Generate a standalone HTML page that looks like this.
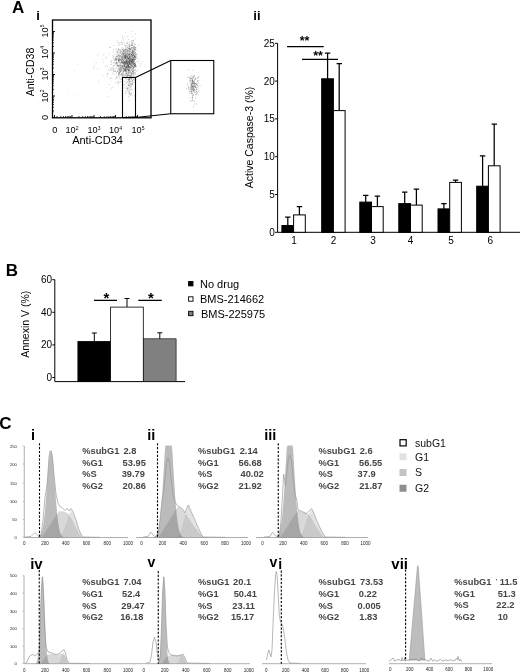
<!DOCTYPE html>
<html><head><meta charset="utf-8"><title>Figure</title>
<style>
html,body{margin:0;padding:0;background:#fff;}
body{width:520px;height:672px;overflow:hidden;font-family:'Liberation Sans', Arial, sans-serif;}
svg{display:block;font-family:'Liberation Sans', Arial, sans-serif;filter:blur(.35px);}
</style></head><body>
<svg width="520" height="672" viewBox="0 0 520 672">
<rect width="520" height="672" fill="#fff"/>
<text x="12" y="13" font-size="17" font-weight="bold" fill="#000" text-anchor="start" >A</text>
<text x="36.3" y="19.5" font-size="13" font-weight="bold" fill="#000" text-anchor="start" >i</text>
<rect x="52.5" y="20" width="98.5" height="97.8" fill="none" stroke="#000" stroke-width="1.3"/>
<path d="M135.3 58.1h.7M123.4 72.0h.7M126.2 56.4h.7M128.2 61.8h.7M121.7 74.9h.7M126.0 61.8h.7M126.0 66.5h.7M116.3 59.1h.7M131.6 74.7h.7M129.3 42.4h.7M122.6 53.1h.7M125.1 53.0h.7M128.8 72.9h.7M124.6 64.2h.7M124.7 59.3h.7M118.0 53.3h.7M129.1 63.0h.7M126.7 61.7h.7M127.5 55.1h.7M117.6 51.8h.7M135.1 49.7h.7M126.8 62.4h.7M123.9 64.1h.7M137.2 58.3h.7M125.8 59.9h.7M118.0 49.5h.7M123.8 62.0h.7M113.4 56.6h.7M131.8 59.6h.7M123.7 65.3h.7M121.9 56.9h.7M131.9 51.3h.7M116.9 71.4h.7M128.9 62.9h.7M114.6 59.3h.7M122.4 38.5h.7M119.4 62.5h.7M134.0 63.6h.7M135.7 67.0h.7M124.2 56.2h.7M130.6 54.6h.7M125.0 57.8h.7M129.1 66.7h.7M121.9 53.0h.7M116.6 62.8h.7M116.1 56.6h.7M128.1 62.5h.7M138.4 45.2h.7M127.5 63.5h.7M123.1 57.9h.7M136.5 56.2h.7M127.3 64.7h.7M126.6 69.8h.7M127.4 47.3h.7M125.3 69.1h.7M124.3 65.9h.7M118.1 61.0h.7M128.8 71.2h.7M125.5 62.6h.7M132.6 69.2h.7M124.0 56.9h.7M115.5 57.3h.7M125.5 70.8h.7M135.3 75.2h.7M123.9 66.6h.7M121.1 69.4h.7M119.4 59.2h.7M120.2 52.3h.7M124.3 59.7h.7M119.5 74.6h.7M134.2 44.0h.7M124.4 57.6h.7M126.6 45.8h.7M133.9 59.5h.7M134.3 65.4h.7M124.8 51.6h.7M127.8 57.3h.7M130.0 70.2h.7M124.9 60.6h.7M116.2 54.1h.7M129.6 49.6h.7M130.9 43.8h.7M128.3 66.4h.7M120.9 56.6h.7M124.9 69.5h.7M122.8 68.7h.7M124.4 56.3h.7M133.1 54.8h.7M134.4 64.7h.7M129.7 61.1h.7M129.0 62.2h.7M129.7 47.0h.7M125.9 68.1h.7M125.6 54.3h.7M122.3 44.3h.7M125.7 56.3h.7M138.4 60.7h.7M130.8 76.0h.7M124.1 58.6h.7M123.4 51.3h.7M121.2 79.0h.7M128.1 61.7h.7M128.2 58.3h.7M118.1 54.9h.7M128.7 52.4h.7M122.9 73.5h.7M133.8 56.6h.7M126.9 56.5h.7M135.4 54.3h.7M123.5 74.0h.7M124.4 56.8h.7M127.6 65.4h.7M131.8 61.4h.7M129.1 62.0h.7M119.2 56.1h.7M127.0 65.9h.7M126.1 73.6h.7M123.6 61.3h.7M122.4 54.8h.7M135.6 48.1h.7M123.9 63.1h.7M121.3 60.2h.7M129.5 59.2h.7M126.7 60.9h.7M125.6 49.6h.7M130.3 65.9h.7M128.7 62.1h.7M128.0 59.8h.7M131.3 61.3h.7M127.6 67.8h.7M122.6 62.4h.7M124.0 54.9h.7M123.1 71.0h.7M127.2 57.3h.7M120.1 57.0h.7M115.9 51.7h.7M126.5 60.9h.7M118.6 54.9h.7M115.3 60.1h.7M128.1 63.9h.7M122.1 62.4h.7M128.7 68.2h.7M123.1 64.2h.7M119.8 59.6h.7M119.2 60.4h.7M123.2 57.8h.7M124.5 66.5h.7M121.5 62.5h.7M124.5 58.2h.7M117.6 70.1h.7M126.1 61.7h.7M116.1 60.2h.7M124.9 49.5h.7M129.8 63.3h.7M132.0 61.1h.7M135.4 58.7h.7M117.4 60.1h.7M130.2 53.3h.7M132.6 57.3h.7M131.4 61.2h.7M120.9 61.5h.7M128.3 59.2h.7M136.2 54.4h.7M117.8 66.1h.7M128.6 62.1h.7M132.1 53.3h.7M122.2 68.1h.7M129.2 66.3h.7M120.1 69.1h.7M121.5 61.3h.7M121.5 60.8h.7M127.1 51.6h.7M125.5 67.1h.7M131.2 42.7h.7M120.8 59.4h.7M125.3 58.5h.7M131.3 66.2h.7M129.1 60.1h.7M118.7 55.6h.7M129.7 48.8h.7M123.4 56.1h.7M128.1 61.2h.7M127.7 61.0h.7M132.7 57.5h.7M126.6 55.4h.7M115.8 62.3h.7M118.5 71.0h.7M130.0 51.2h.7M124.6 61.7h.7M132.3 71.9h.7M127.5 64.9h.7M121.9 58.6h.7M132.0 64.4h.7M121.6 56.4h.7M114.7 64.3h.7M137.4 69.9h.7M115.5 78.9h.7M129.5 46.6h.7M131.2 65.0h.7M126.8 76.0h.7M116.7 59.4h.7M131.6 61.4h.7M118.1 75.1h.7M118.6 59.3h.7M124.0 65.1h.7M130.3 59.3h.7M127.7 45.4h.7M130.5 62.4h.7M123.6 60.3h.7M125.1 68.6h.7M119.7 79.2h.7M124.3 66.9h.7M129.3 57.2h.7M124.4 65.0h.7M128.6 61.8h.7M122.8 69.9h.7M122.7 50.7h.7M126.2 51.8h.7M124.9 45.3h.7M129.3 64.8h.7M127.0 60.6h.7M135.6 53.2h.7M124.8 55.7h.7M124.8 56.9h.7M120.3 55.4h.7M126.1 58.4h.7M129.8 56.0h.7M121.9 73.1h.7M125.7 63.6h.7M130.0 53.4h.7M125.3 56.6h.7M123.1 71.2h.7M131.4 63.0h.7M126.5 63.2h.7M128.2 66.0h.7M132.4 71.6h.7M132.3 49.6h.7M124.1 55.7h.7M123.1 48.2h.7M127.6 64.4h.7M125.3 58.2h.7M115.6 58.8h.7M133.0 53.0h.7M126.1 66.4h.7M130.1 58.7h.7M119.5 58.7h.7M133.1 68.8h.7M122.8 53.7h.7M125.4 51.3h.7M118.3 83.6h.7M125.1 58.4h.7M124.7 57.1h.7M125.0 55.6h.7M128.4 59.2h.7M126.3 67.0h.7M131.4 65.3h.7M123.4 66.0h.7M120.5 60.4h.7M125.9 49.4h.7M129.5 62.2h.7M132.8 70.9h.7M130.5 68.1h.7M116.3 62.5h.7M128.1 66.7h.7M134.0 55.6h.7M126.3 60.5h.7M123.2 52.2h.7M127.7 58.0h.7M123.2 62.9h.7M129.5 58.7h.7M125.9 67.1h.7M133.7 73.5h.7M128.7 70.6h.7M122.0 59.8h.7M129.3 54.3h.7M131.1 54.4h.7M122.9 54.2h.7M123.7 61.9h.7M113.3 68.0h.7M131.0 61.0h.7M122.8 63.5h.7M114.3 65.6h.7M116.3 62.8h.7M124.8 55.5h.7M130.2 73.3h.7M125.5 69.4h.7M128.6 53.1h.7M119.9 55.7h.7M118.6 58.6h.7M130.9 59.8h.7M128.7 70.1h.7M125.8 69.0h.7M133.1 67.3h.7M120.8 71.0h.7M123.7 70.3h.7M131.6 65.1h.7M136.1 61.6h.7M126.0 60.1h.7M135.2 44.6h.7M122.7 61.0h.7M127.8 74.6h.7M125.0 57.0h.7M117.3 58.6h.7M127.4 68.6h.7M131.1 60.1h.7M125.2 57.5h.7M125.6 73.3h.7M133.7 63.7h.7M119.1 68.9h.7M117.8 59.0h.7M122.4 65.9h.7M119.4 65.9h.7M133.4 64.9h.7M127.7 69.5h.7M121.2 71.2h.7M122.6 63.3h.7M141.7 61.8h.7M122.6 53.0h.7M121.8 67.3h.7M127.7 65.9h.7M129.5 56.9h.7M127.2 54.6h.7M121.0 62.0h.7M119.6 53.3h.7M129.3 62.7h.7M125.7 63.4h.7M117.0 56.2h.7M132.4 59.5h.7M130.3 68.1h.7M124.7 69.7h.7M124.6 69.3h.7M127.3 59.5h.7M122.2 59.4h.7M118.6 60.1h.7M127.8 65.1h.7M118.1 81.7h.7M128.1 71.4h.7M118.1 75.7h.7M125.5 71.7h.7M125.3 48.6h.7M135.8 56.6h.7M120.1 59.3h.7M118.2 73.1h.7M122.4 75.3h.7M119.8 57.6h.7M122.8 62.2h.7M128.3 64.7h.7M130.2 55.9h.7M135.1 53.4h.7M121.9 56.9h.7M140.5 63.7h.7M136.9 50.7h.7M124.9 70.2h.7M113.4 65.3h.7M125.5 67.0h.7M126.4 73.0h.7M113.4 59.4h.7M126.4 54.5h.7M124.9 64.7h.7M121.7 54.2h.7M129.4 54.3h.7M131.5 58.5h.7M123.3 63.0h.7M127.3 50.9h.7M122.4 59.1h.7M121.7 66.8h.7M126.4 71.4h.7M128.9 44.8h.7M122.9 72.1h.7M113.8 71.4h.7M129.2 51.6h.7M117.2 52.1h.7M126.7 64.1h.7M135.8 54.9h.7M125.9 62.1h.7M119.5 69.6h.7M118.0 60.4h.7M132.4 60.4h.7M125.9 64.7h.7M129.0 67.1h.7M131.1 73.3h.7M125.7 74.4h.7M124.3 63.4h.7M120.8 60.7h.7M109.0 84.5h.7M117.7 68.4h.7M125.6 64.4h.7M125.0 52.7h.7M128.2 66.4h.7M125.3 55.1h.7M126.9 57.2h.7M130.3 49.3h.7M121.1 58.4h.7M124.4 61.9h.7M117.2 51.9h.7M131.4 52.5h.7M126.2 60.3h.7M128.7 50.4h.7M134.5 48.8h.7M131.9 52.8h.7M125.7 50.1h.7M130.3 64.5h.7M118.1 55.5h.7M128.4 66.3h.7M126.8 68.0h.7M117.1 54.2h.7M133.4 59.2h.7M122.1 58.4h.7M129.8 51.0h.7M123.7 59.1h.7M131.5 57.5h.7M133.2 64.5h.7M121.4 70.3h.7M117.6 54.9h.7M125.3 58.0h.7M130.7 63.8h.7M124.0 70.8h.7M122.6 42.9h.7M128.7 70.2h.7M110.8 64.1h.7M122.3 74.0h.7M118.4 59.9h.7M127.6 54.0h.7M122.0 62.5h.7M119.9 71.9h.7M124.1 61.8h.7M117.9 44.9h.7M125.9 66.4h.7M122.2 49.5h.7M123.9 54.0h.7M122.1 53.1h.7M131.0 45.2h.7M125.4 51.4h.7M128.9 52.4h.7M128.6 55.4h.7M121.6 61.9h.7M129.1 57.5h.7M127.9 48.8h.7M127.7 59.1h.7M123.8 69.3h.7M123.7 69.1h.7M130.3 60.8h.7M138.0 62.4h.7M121.4 69.3h.7M128.9 70.8h.7M124.0 74.9h.7M130.3 57.2h.7M128.4 58.2h.7M131.8 70.8h.7M110.6 77.7h.7M122.7 74.0h.7M120.6 44.2h.7M125.4 59.5h.7M122.0 36.6h.7M122.5 67.7h.7M129.8 60.3h.7M136.5 58.4h.7M110.5 64.4h.7M124.3 71.7h.7M127.7 58.2h.7M126.0 69.1h.7M124.1 65.9h.7M118.6 66.0h.7M120.8 66.1h.7M130.0 60.7h.7M131.9 50.7h.7M126.5 66.5h.7M121.4 67.9h.7M126.5 59.7h.7M124.7 67.1h.7M129.0 67.2h.7M126.7 50.8h.7M122.6 60.9h.7M127.0 57.2h.7M119.5 55.8h.7M130.5 62.2h.7M132.5 52.5h.7M119.5 59.5h.7M128.3 62.2h.7M120.5 65.3h.7M131.9 61.8h.7M131.0 77.1h.7M124.7 57.4h.7M131.5 61.4h.7M123.6 52.2h.7M122.5 65.8h.7M122.9 71.0h.7M125.2 70.7h.7M124.2 56.5h.7M126.8 58.6h.7M122.6 71.9h.7M130.2 59.0h.7M131.6 66.9h.7M123.3 54.2h.7M118.2 74.1h.7M130.0 67.9h.7M132.3 62.8h.7M125.1 55.0h.7M118.9 61.8h.7M127.5 61.8h.7M134.4 60.6h.7M115.7 63.2h.7M128.6 58.5h.7M124.3 63.0h.7M121.3 73.3h.7M128.7 44.5h.7M118.9 52.3h.7M127.6 48.4h.7M133.2 53.5h.7M127.0 47.1h.7M121.2 66.7h.7M116.2 64.6h.7M118.9 61.1h.7M115.9 58.6h.7M134.8 59.7h.7M124.6 62.8h.7M120.3 65.3h.7M118.9 57.4h.7M120.1 67.8h.7M124.2 50.0h.7M118.9 72.8h.7M135.2 34.2h.7M121.9 57.5h.7M121.7 52.8h.7M127.7 66.7h.7M134.0 47.0h.7M133.3 73.2h.7M123.3 49.7h.7M127.4 76.5h.7M126.8 64.3h.7M128.9 60.4h.7M127.4 64.0h.7M120.8 79.7h.7M119.1 70.0h.7M127.0 43.2h.7M119.5 72.3h.7M133.5 60.6h.7M126.2 48.3h.7M120.4 68.6h.7M124.2 52.0h.7M123.2 63.2h.7M125.3 63.0h.7M131.2 54.4h.7M118.1 68.4h.7M115.7 56.0h.7M127.9 62.0h.7M125.0 57.0h.7M126.9 59.3h.7M128.4 75.4h.7M125.0 62.2h.7M130.4 51.2h.7M121.1 61.5h.7M126.4 54.9h.7M121.4 62.5h.7M119.8 64.1h.7M129.4 60.7h.7M129.1 60.7h.7M115.3 59.8h.7M119.8 66.3h.7M127.6 68.8h.7M131.9 54.4h.7M122.3 61.6h.7M125.0 61.8h.7M118.2 73.1h.7M139.8 65.4h.7M128.6 54.5h.7M130.9 60.1h.7M129.6 48.2h.7M131.1 51.9h.7M129.3 60.1h.7M124.2 66.5h.7M130.1 67.3h.7M126.4 58.4h.7M133.1 48.3h.7M122.0 65.3h.7M123.0 60.5h.7M129.6 63.3h.7M133.0 60.2h.7M126.8 66.4h.7M122.1 67.3h.7M125.3 67.8h.7M123.3 58.2h.7M136.4 65.8h.7M130.9 55.6h.7M133.0 59.6h.7M127.7 75.1h.7M122.9 64.7h.7M132.5 50.0h.7M135.1 70.0h.7M129.2 67.9h.7M125.9 70.0h.7M131.9 60.8h.7M124.0 64.3h.7M130.2 58.0h.7M122.1 56.7h.7M120.7 74.5h.7M129.1 57.2h.7M127.9 56.7h.7M136.5 54.5h.7M124.5 76.0h.7M126.1 67.8h.7M119.7 59.9h.7M115.7 63.6h.7M116.2 67.9h.7M128.5 67.1h.7M119.5 50.3h.7M132.2 66.3h.7M133.8 57.0h.7M124.4 56.1h.7M135.1 55.3h.7M127.2 66.8h.7M132.2 73.0h.7M124.8 62.5h.7M131.3 63.8h.7M120.8 56.1h.7M129.4 63.9h.7M123.5 68.2h.7M125.3 49.5h.7M129.5 56.0h.7M126.9 66.9h.7M125.6 47.3h.7M130.0 56.9h.7M130.4 64.4h.7M118.4 50.0h.7M129.1 57.0h.7M129.7 60.4h.7M121.9 69.2h.7M128.1 50.4h.7M118.7 71.8h.7M133.9 61.1h.7M124.7 70.8h.7M125.6 70.2h.7M132.6 61.8h.7M125.2 65.0h.7M129.3 46.4h.7M120.2 52.1h.7M122.9 54.0h.7M118.3 60.5h.7M124.9 68.6h.7M131.7 45.4h.7M127.2 58.1h.7M130.9 49.2h.7M120.4 50.4h.7M121.1 74.0h.7M123.4 62.5h.7M129.1 72.9h.7M128.0 69.7h.7M125.9 53.8h.7M129.4 45.5h.7M125.2 77.5h.7M131.0 79.5h.7M122.9 60.7h.7M127.9 70.0h.7M134.0 46.9h.7M128.1 58.9h.7M131.7 60.1h.7M133.7 60.2h.7M134.7 55.7h.7M127.2 52.8h.7M131.6 31.5h.7M131.7 54.3h.7M128.9 51.7h.7M132.1 57.0h.7M123.5 68.8h.7M132.8 79.1h.7M134.4 63.6h.7M122.8 70.3h.7M119.0 67.6h.7M120.2 68.3h.7M133.3 64.4h.7M125.7 58.3h.7M131.8 56.5h.7M127.3 63.3h.7M117.5 78.5h.7M133.2 66.2h.7M116.2 77.1h.7M120.1 50.2h.7M130.6 62.1h.7M118.2 65.8h.7M127.8 65.0h.7M121.1 49.3h.7M119.1 45.5h.7M121.5 42.5h.7M126.9 56.9h.7M133.8 80.2h.7M117.5 64.4h.7M127.5 49.5h.7M131.8 62.6h.7M125.0 58.2h.7M122.7 62.9h.7M122.2 57.4h.7M128.6 48.6h.7M130.6 55.0h.7M129.1 66.6h.7M124.3 63.8h.7M118.9 73.2h.7M135.4 49.3h.7M131.8 69.1h.7M124.2 61.7h.7M123.6 63.1h.7M129.8 71.3h.7M119.1 61.1h.7M132.5 61.9h.7M135.2 64.8h.7M126.3 66.7h.7M124.5 68.6h.7M127.5 72.3h.7M126.7 65.6h.7M131.9 55.9h.7M122.2 83.8h.7M134.3 59.1h.7M130.4 63.6h.7M135.0 52.5h.7M117.8 43.1h.7M122.4 54.8h.7M121.4 62.6h.7M124.4 66.2h.7M127.4 61.1h.7M128.5 67.8h.7M132.0 68.8h.7M124.5 70.3h.7M133.2 59.7h.7M125.8 61.9h.7M133.6 57.7h.7M134.3 51.6h.7M127.6 73.7h.7M133.0 48.6h.7M132.1 59.3h.7M121.9 64.0h.7M133.4 40.4h.7M128.5 67.4h.7M115.4 60.1h.7M131.8 62.0h.7M132.4 56.9h.7M128.8 46.8h.7M112.8 65.6h.7M127.0 61.9h.7M128.0 69.8h.7M128.3 65.0h.7M131.9 44.8h.7M121.7 72.0h.7M134.1 66.7h.7M125.3 68.2h.7M111.4 68.5h.7M129.8 54.1h.7M128.2 65.5h.7M118.4 59.4h.7M122.5 87.8h.7M129.6 58.3h.7M127.8 50.8h.7M129.5 57.4h.7M132.3 72.9h.7M115.1 58.2h.7M123.1 39.8h.7M125.3 74.5h.7M117.7 65.8h.7M115.0 58.9h.7M126.4 67.5h.7M124.6 53.2h.7M121.6 51.5h.7M107.1 73.5h.7M133.1 55.1h.7M124.5 66.3h.7M126.1 61.3h.7M134.8 66.9h.7M122.4 62.9h.7M132.9 41.4h.7M135.3 65.5h.7M132.7 55.6h.7M120.1 70.3h.7M130.2 61.4h.7M132.8 72.6h.7M135.1 56.5h.7M113.4 45.2h.7M129.1 57.7h.7M122.4 66.5h.7M113.9 60.5h.7M125.8 57.0h.7M131.0 73.4h.7M133.7 58.3h.7M102.4 75.4h.7M107.1 66.3h.7M118.8 49.6h.7M123.7 53.2h.7M133.9 56.8h.7M116.4 65.9h.7M123.0 54.5h.7M131.9 47.3h.7M119.9 53.2h.7M126.2 56.4h.7M106.0 57.2h.7M118.6 57.4h.7M130.8 77.0h.7M126.8 63.5h.7M121.2 54.8h.7M134.3 59.4h.7M117.6 77.0h.7M133.7 65.4h.7M132.2 59.0h.7M128.7 48.4h.7M129.6 45.1h.7M134.6 56.4h.7M129.7 59.4h.7M130.9 45.5h.7M134.5 47.4h.7M129.5 60.0h.7M120.8 42.2h.7M125.6 45.7h.7M123.5 61.2h.7M113.1 68.7h.7M118.1 65.6h.7M119.8 71.3h.7M131.4 74.2h.7M133.4 67.7h.7M110.1 61.9h.7M128.1 79.9h.7M128.7 75.7h.7M126.0 69.6h.7M133.1 52.4h.7M130.9 63.8h.7M124.1 42.7h.7M133.1 56.8h.7M116.5 40.7h.7M132.0 56.2h.7M124.7 70.7h.7M135.1 59.5h.7M134.1 74.1h.7M129.3 60.6h.7M119.7 63.4h.7M134.8 56.7h.7M119.9 67.2h.7M129.3 60.3h.7M133.7 70.5h.7M115.7 77.8h.7M127.0 64.4h.7M127.1 50.9h.7M129.9 65.5h.7M133.3 72.0h.7M132.1 65.9h.7M117.6 65.6h.7M129.3 69.1h.7M128.1 72.8h.7M132.3 36.5h.7M126.2 74.9h.7M135.5 66.4h.7M124.7 65.9h.7M127.9 55.9h.7M128.8 62.8h.7M112.7 69.5h.7M133.1 46.5h.7M133.1 66.6h.7M129.3 61.3h.7M119.1 75.9h.7M134.7 65.7h.7M126.1 59.7h.7M124.4 62.2h.7M128.1 66.7h.7M122.6 63.4h.7M120.7 67.3h.7M128.5 54.4h.7M129.1 49.5h.7M126.0 56.2h.7M134.7 46.7h.7M128.6 53.8h.7M109.7 67.8h.7M134.6 44.9h.7M129.7 49.5h.7M112.6 70.6h.7M133.6 55.1h.7M130.7 60.3h.7M123.6 50.7h.7M132.7 50.6h.7M114.2 61.0h.7M132.7 74.7h.7M122.5 66.0h.7M121.6 47.1h.7M134.8 63.6h.7M119.8 70.9h.7M134.2 65.9h.7M129.8 49.6h.7M125.5 60.8h.7M133.5 78.9h.7M134.0 51.3h.7M128.6 63.8h.7M118.8 56.0h.7M123.7 50.4h.7M131.1 56.4h.7M128.4 70.1h.7M127.6 71.5h.7M121.2 54.4h.7M129.3 56.4h.7M125.0 53.5h.7M131.4 41.6h.7M128.4 66.3h.7M123.6 75.8h.7M133.3 73.4h.7M129.6 56.5h.7M130.5 72.4h.7M129.0 70.6h.7M123.0 58.9h.7M131.9 60.1h.7M134.1 56.4h.7M127.2 63.3h.7M133.2 76.3h.7M125.0 53.3h.7M103.5 55.2h.7M132.7 67.9h.7M129.4 61.3h.7M109.9 47.6h.7M132.0 51.1h.7M134.5 52.3h.7M131.4 54.9h.7M120.5 65.4h.7M112.0 73.2h.7M134.3 58.3h.7M131.7 61.7h.7M118.7 56.2h.7M128.3 70.2h.7M126.3 73.5h.7M122.7 59.8h.7M112.7 57.5h.7M117.1 81.9h.7M131.7 68.7h.7M132.4 52.2h.7M125.3 46.4h.7M127.7 58.5h.7M132.0 71.1h.7M127.1 56.4h.7M135.0 57.5h.7M130.1 56.3h.7M117.8 69.0h.7M122.4 74.8h.7M122.8 50.8h.7M131.4 57.9h.7M94.3 66.1h.7M132.6 54.6h.7M133.9 49.2h.7M134.8 67.2h.7M124.7 63.2h.7M127.6 67.7h.7M122.9 75.8h.7M124.3 58.6h.7M135.2 64.6h.7M126.5 57.8h.7M113.5 63.3h.7M118.4 66.1h.7M128.9 59.5h.7M115.7 50.0h.7M131.2 74.1h.7M131.8 61.8h.7M133.9 49.7h.7M131.6 40.6h.7M132.6 60.1h.7M130.6 66.6h.7M131.0 69.7h.7M135.3 69.8h.7M103.3 62.7h.7M123.0 68.0h.7M128.8 47.1h.7M131.2 61.9h.7M127.5 69.6h.7M133.0 54.7h.7M132.8 58.8h.7M125.1 62.7h.7M125.4 63.0h.7M109.5 78.3h.7M129.3 51.2h.7M127.8 73.3h.7M108.5 53.9h.7M124.2 55.9h.7M124.7 54.9h.7M133.1 59.4h.7M125.0 57.3h.7M133.4 64.5h.7M125.6 61.8h.7M117.4 83.2h.7M130.6 64.2h.7M133.3 57.9h.7M133.6 63.5h.7M131.7 65.9h.7M113.1 62.5h.7M134.2 49.9h.7M131.3 53.3h.7M126.0 63.2h.7M117.4 70.8h.7M127.2 65.7h.7M127.0 60.6h.7M126.5 66.6h.7M134.3 55.5h.7M117.1 65.7h.7M127.3 74.2h.7M125.0 71.9h.7M131.3 72.8h.7M120.2 59.4h.7M125.4 63.6h.7M126.4 52.4h.7M119.3 71.2h.7M126.8 57.6h.7M127.5 49.4h.7M129.0 56.5h.7M127.4 63.6h.7M119.1 43.1h.7M133.1 47.4h.7M127.6 70.2h.7M126.3 62.4h.7M133.0 59.8h.7M113.2 49.6h.7M111.6 78.7h.7M125.8 70.9h.7M128.6 67.4h.7M133.5 50.0h.7M135.3 64.9h.7M133.1 70.4h.7M111.5 61.5h.7M131.9 58.1h.7M116.0 59.3h.7M126.3 66.9h.7M135.4 57.6h.7M134.5 57.0h.7M131.1 47.4h.7M131.9 45.4h.7M132.9 68.6h.7M131.7 74.6h.7M129.0 68.7h.7M120.8 75.3h.7M131.7 55.5h.7M119.6 62.4h.7M124.4 65.2h.7M133.1 58.6h.7M128.8 76.0h.7M130.7 48.6h.7M131.3 55.3h.7M128.8 57.8h.7M134.0 53.6h.7M113.5 71.6h.7M127.0 43.3h.7M119.0 73.1h.7M127.0 69.5h.7M128.0 64.0h.7M135.1 72.3h.7M129.4 82.0h.7M133.2 61.7h.7M124.4 68.4h.7M129.4 64.4h.7M120.5 67.4h.7M124.8 57.3h.7M123.2 55.7h.7M129.1 66.5h.7M133.0 55.5h.7M124.3 70.3h.7M129.6 68.1h.7M132.1 56.4h.7M129.5 64.2h.7M105.2 66.5h.7M114.8 62.7h.7M134.1 70.2h.7M134.1 60.4h.7M124.3 64.1h.7M133.0 42.8h.7M121.5 68.0h.7M131.9 47.6h.7M127.2 58.0h.7M133.0 74.8h.7M129.9 77.0h.7M131.7 57.1h.7M119.9 51.6h.7M123.2 65.9h.7M111.0 61.1h.7M111.9 67.6h.7M124.5 49.9h.7M126.0 71.8h.7M122.8 76.3h.7M128.4 48.2h.7M130.7 53.9h.7M128.7 54.9h.7M133.6 66.8h.7M131.9 42.9h.7M129.0 63.0h.7M134.7 57.9h.7M122.1 55.4h.7M135.2 66.2h.7M132.1 43.0h.7M113.2 52.0h.7M129.8 53.9h.7M132.7 66.8h.7M121.3 59.6h.7M105.2 58.5h.7M135.3 64.2h.7M134.1 55.8h.7M134.7 54.2h.7M128.5 58.6h.7M133.3 63.4h.7M127.9 85.7h.7M135.2 50.2h.7M132.1 63.1h.7M133.0 59.0h.7M131.0 58.5h.7M135.3 73.7h.7M127.4 68.5h.7M113.4 70.4h.7M120.8 58.9h.7M115.9 56.3h.7M133.9 63.0h.7M120.9 60.4h.7M132.1 55.5h.7M124.6 68.2h.7M134.7 49.3h.7M125.9 55.4h.7M120.9 70.0h.7M132.4 59.9h.7M121.2 68.9h.7M132.0 53.1h.7M134.7 66.6h.7M123.6 56.1h.7M134.2 72.5h.7M131.0 68.1h.7M127.9 65.8h.7M126.0 75.8h.7M134.6 63.5h.7M132.0 55.2h.7M129.6 75.3h.7M129.7 64.4h.7M133.5 71.5h.7M131.7 62.3h.7M132.1 71.3h.7M123.8 54.8h.7M126.9 50.6h.7M134.8 47.7h.7M114.6 71.2h.7M124.5 44.8h.7M132.5 44.8h.7M135.4 47.5h.7M127.1 64.0h.7M127.0 65.9h.7M132.0 53.6h.7M115.1 71.4h.7M131.7 63.9h.7M118.5 74.6h.7M128.1 70.3h.7M129.1 55.4h.7M129.2 63.4h.7M132.3 59.5h.7M133.5 64.9h.7M133.3 62.6h.7M127.7 62.1h.7M131.1 67.6h.7M126.9 62.6h.7M120.0 70.0h.7M126.0 62.6h.7M132.1 59.6h.7M126.6 70.4h.7M116.3 72.8h.7M120.1 74.6h.7M135.3 66.1h.7M132.4 59.1h.7M130.4 63.1h.7M134.6 62.0h.7M132.1 45.3h.7M131.9 51.0h.7M127.7 75.6h.7M131.8 60.6h.7M124.5 37.0h.7M118.2 62.8h.7M129.1 63.1h.7M123.3 51.8h.7M132.0 81.5h.7M125.7 72.4h.7M124.8 69.8h.7M125.8 60.6h.7M135.3 64.7h.7M120.1 71.0h.7M131.0 65.5h.7M134.0 54.6h.7M119.3 65.3h.7M127.2 63.2h.7M132.1 63.6h.7M112.0 55.7h.7M121.6 65.5h.7M125.9 62.2h.7M129.3 63.6h.7M131.4 62.9h.7M129.2 48.6h.7M117.1 71.6h.7M130.4 68.0h.7M122.6 50.8h.7M116.0 63.3h.7M132.7 53.1h.7M134.5 56.3h.7M132.9 69.7h.7M134.4 65.1h.7M134.8 78.1h.7M127.2 62.6h.7M128.0 51.6h.7M133.2 61.6h.7M128.0 39.7h.7M134.1 76.3h.7M128.7 63.7h.7M126.5 65.8h.7M97.0 69.0h.7M127.0 54.0h.7M129.9 60.0h.7M125.6 54.8h.7M122.6 57.9h.7M126.0 64.7h.7M116.5 52.8h.7M119.4 77.7h.7M123.9 52.5h.7M126.2 69.0h.7M133.0 54.4h.7M124.9 50.6h.7M124.3 65.3h.7M128.1 62.5h.7M130.3 58.5h.7M126.5 60.7h.7M120.8 56.8h.7M133.0 63.7h.7M126.6 56.8h.7M128.0 61.0h.7M119.6 72.4h.7M129.0 48.7h.7M114.8 58.3h.7M117.3 56.8h.7M131.9 52.8h.7M117.5 50.7h.7M128.2 58.2h.7M130.9 61.4h.7M130.4 59.1h.7M116.4 48.6h.7M109.5 70.4h.7M110.5 70.4h.7M126.8 61.4h.7M114.3 54.3h.7M132.9 51.9h.7M131.6 77.2h.7M121.4 77.2h.7M128.4 64.7h.7M132.5 51.4h.7M113.1 74.7h.7M130.6 61.5h.7M127.0 75.6h.7M131.3 54.7h.7M133.2 63.6h.7M134.0 57.4h.7M132.0 66.4h.7M122.0 56.0h.7M132.5 67.7h.7M119.1 58.8h.7M120.9 53.9h.7M124.8 66.2h.7M130.9 62.0h.7M126.7 41.8h.7M132.1 59.2h.7M132.4 60.5h.7M130.4 61.6h.7M126.0 79.1h.7M116.8 56.9h.7M131.6 59.5h.7M130.8 44.6h.7M118.1 49.3h.7M127.1 55.5h.7M116.3 61.6h.7M135.1 57.2h.7M130.6 65.6h.7M134.8 65.6h.7M107.7 73.5h.7M134.6 57.6h.7M132.2 64.0h.7M129.4 53.7h.7M133.1 62.6h.7M128.2 64.7h.7M126.7 56.2h.7M125.0 32.1h.7M102.6 59.6h.7M132.9 82.5h.7M130.9 58.9h.7M128.5 54.6h.7M122.7 62.4h.7M128.8 70.2h.7M126.8 63.6h.7M128.7 58.4h.7M130.2 48.4h.7M128.3 57.7h.7M126.5 49.9h.7M132.9 62.6h.7M122.5 75.0h.7M124.9 70.5h.7M128.4 55.0h.7M129.9 51.1h.7M122.1 49.1h.7M121.6 65.6h.7M108.4 69.4h.7M127.6 67.5h.7M125.1 64.0h.7M130.7 48.9h.7M126.1 43.5h.7M130.6 69.8h.7M126.6 53.1h.7M125.4 77.9h.7M132.5 40.5h.7M121.6 51.6h.7M133.0 50.9h.7M132.0 61.9h.7M134.6 64.9h.7M131.2 54.7h.7M130.6 65.1h.7M133.3 47.5h.7M126.1 56.1h.7M134.4 48.1h.7M128.7 55.1h.7M128.3 54.4h.7M133.1 61.9h.7M125.2 91.7h.7M133.3 46.8h.7M122.4 59.5h.7M119.2 68.1h.7M134.2 59.6h.7M128.0 73.0h.7M126.0 51.4h.7M133.3 66.1h.7M126.9 53.4h.7M119.0 69.4h.7M120.2 63.3h.7M126.2 62.8h.7M124.6 55.6h.7M109.6 47.3h.7M134.3 49.0h.7M134.3 65.3h.7M118.0 59.9h.7M126.1 67.2h.7M122.5 49.4h.7M123.6 66.9h.7M124.8 69.9h.7M117.8 42.4h.7M133.7 62.0h.7M132.1 76.8h.7M127.9 53.4h.7M133.7 68.1h.7M124.7 61.3h.7M124.5 68.6h.7M118.0 58.8h.7M131.7 52.5h.7M121.0 57.8h.7M124.0 57.8h.7M134.2 53.7h.7M133.4 51.3h.7M120.1 71.8h.7M113.7 57.9h.7M131.6 48.7h.7M132.7 50.9h.7M133.2 63.6h.7M134.7 38.9h.7M129.9 64.4h.7M126.7 67.0h.7M129.8 71.4h.7M132.1 55.5h.7M124.5 53.6h.7M121.2 63.2h.7M117.1 63.8h.7M133.1 71.1h.7M120.0 62.4h.7M116.3 58.8h.7M131.6 47.6h.7M119.3 60.2h.7M116.8 63.2h.7M131.0 70.3h.7M124.1 62.1h.7M128.5 72.4h.7M114.8 74.1h.7M132.4 52.6h.7M132.6 49.2h.7M117.6 56.7h.7M134.1 57.0h.7M127.2 53.2h.7M122.9 67.7h.7M114.5 69.1h.7M118.4 73.1h.7M117.2 65.0h.7M121.7 57.7h.7M135.1 62.6h.7M132.8 51.2h.7M132.8 60.8h.7M134.8 52.2h.7M125.2 71.3h.7M127.5 36.5h.7M133.9 66.8h.7M119.1 70.1h.7M118.3 61.9h.7M131.3 62.8h.7M125.5 62.7h.7M119.0 73.8h.7M122.0 76.5h.7M128.7 60.3h.7M127.5 75.2h.7M124.8 55.3h.7M117.2 66.3h.7M134.1 63.1h.7M123.9 49.9h.7M130.2 62.9h.7M133.6 53.3h.7M129.0 67.3h.7M127.5 90.5h.7M125.4 78.3h.7M126.5 83.1h.7M129.5 94.9h.7M130.2 89.8h.7M130.3 72.3h.7M127.7 98.1h.7M131.3 78.8h.7M128.2 85.7h.7M129.0 80.7h.7M131.8 80.4h.7M129.1 78.8h.7M125.2 88.0h.7M131.1 78.2h.7M129.5 74.8h.7M128.6 79.7h.7M132.5 83.6h.7M128.1 69.6h.7M131.0 89.2h.7M129.8 78.6h.7M135.5 88.7h.7M125.4 93.3h.7M129.9 85.9h.7M130.3 87.4h.7M132.0 80.5h.7M128.5 79.0h.7M128.0 70.4h.7M132.7 82.3h.7M128.5 79.9h.7M130.1 67.1h.7M129.4 85.6h.7M130.4 94.3h.7M126.4 86.5h.7M128.2 91.8h.7M129.4 81.8h.7M129.7 76.6h.7M132.0 84.1h.7M130.7 81.3h.7M130.8 75.7h.7M129.4 90.9h.7M132.4 84.9h.7M128.1 79.1h.7M129.3 85.1h.7M126.1 82.7h.7M127.1 88.0h.7M131.4 94.9h.7M129.4 79.4h.7M125.2 75.4h.7M129.4 93.4h.7M128.9 100.5h.7M126.9 79.5h.7M130.3 77.4h.7M128.9 75.3h.7M129.5 83.7h.7M131.7 84.5h.7M128.1 81.9h.7M132.0 89.6h.7M128.9 78.0h.7M128.9 79.6h.7M132.4 75.0h.7M130.4 93.5h.7M128.6 91.3h.7M129.2 92.9h.7M130.0 77.9h.7M126.1 93.1h.7M131.0 85.8h.7M129.5 88.8h.7M126.5 87.9h.7M127.3 81.6h.7M131.5 82.6h.7M126.6 73.1h.7M134.4 80.0h.7M127.0 82.2h.7M130.0 75.7h.7M123.6 84.5h.7M129.3 92.8h.7M128.3 80.4h.7M130.6 77.1h.7M129.9 77.9h.7M128.7 85.2h.7M134.4 96.0h.7M131.2 85.0h.7M127.8 84.2h.7M130.2 75.2h.7M122.8 86.2h.7M128.1 88.2h.7M132.3 81.0h.7M128.2 83.7h.7M129.8 79.2h.7M126.8 89.0h.7M131.2 93.2h.7M129.7 86.5h.7M129.4 87.4h.7M131.6 84.2h.7M133.2 79.4h.7M131.2 78.5h.7M125.4 81.0h.7M130.3 84.7h.7M130.0 83.8h.7M126.8 90.9h.7M125.7 89.0h.7M128.4 94.2h.7M128.7 89.3h.7M129.2 82.2h.7M127.7 84.6h.7M129.7 72.6h.7M130.0 95.5h.7M128.7 79.8h.7M130.3 81.0h.7M128.0 96.6h.7M125.8 76.4h.7M129.3 79.6h.7M131.4 83.5h.7M135.6 79.8h.7M124.5 84.5h.7M128.2 85.6h.7M127.3 88.3h.7M130.0 83.2h.7M127.3 88.7h.7M129.6 81.6h.7M128.3 67.7h.7M136.2 71.3h.7M95.7 62.6h.7M116.7 60.4h.7M122.4 82.5h.7M93.5 68.3h.7M77.3 64.1h.7M124.2 81.6h.7M110.9 69.6h.7M130.8 60.1h.7M119.7 82.0h.7M119.7 64.8h.7M115.0 82.7h.7M121.3 60.5h.7M107.2 74.3h.7M112.7 87.0h.7M130.8 76.2h.7M116.3 76.8h.7M126.9 76.1h.7M119.7 81.8h.7M115.1 71.0h.7M106.4 76.1h.7M131.6 66.7h.7M108.3 96.7h.7M125.1 57.7h.7M98.2 81.3h.7M123.6 56.3h.7M125.2 77.3h.7M111.0 88.1h.7M97.3 54.7h.7" stroke="#333" stroke-width=".7" stroke-opacity=".45" fill="none"/>
<path d="M111.0 81.6h.7M70.6 85.5h.7M72.7 93.6h.7M89.7 105.3h.7M68.6 92.6h.7M99.4 84.6h.7M92.1 97.7h.7M63.7 99.7h.7M74.1 93.0h.7M91.0 88.6h.7M69.0 94.9h.7M74.1 70.3h.7M94.0 97.4h.7M70.1 106.9h.7M89.2 100.2h.7M64.6 85.3h.7M99.6 79.6h.7M105.8 107.7h.7M67.8 89.7h.7M59.8 96.9h.7M99.0 88.9h.7M76.2 95.1h.7M100.2 109.5h.7" stroke="#999" stroke-width=".7" stroke-opacity=".25" fill="none"/>
<rect x="122.5" y="77.5" width="13" height="40" fill="none" stroke="#000" stroke-width="1.1"/>
<path d="M135.5 77.5L170.75 60.5M135.5 117.5L170.75 113.75" stroke="#000" stroke-width="1.1" fill="none"/>
<rect x="170.75" y="60.5" width="43" height="53.25" fill="#fff" stroke="#000" stroke-width="1.1"/>
<path d="M191.6 79.9h.7M198.0 76.5h.7M193.9 75.7h.7M193.8 89.9h.7M195.4 78.1h.7M195.4 83.5h.7M195.7 84.1h.7M194.4 90.5h.7M191.4 78.5h.7M197.3 84.9h.7M192.5 86.0h.7M190.7 91.0h.7M195.3 83.6h.7M194.7 85.9h.7M192.9 83.5h.7M193.1 89.6h.7M194.5 88.9h.7M198.1 83.0h.7M192.7 87.2h.7M189.6 78.1h.7M191.4 85.0h.7M194.3 80.8h.7M192.4 82.9h.7M191.2 89.3h.7M194.9 94.4h.7M194.9 85.7h.7M192.4 84.2h.7M193.7 83.3h.7M191.2 88.2h.7M191.3 84.0h.7M192.0 89.2h.7M189.3 91.7h.7M193.8 87.6h.7M192.7 83.1h.7M191.6 88.2h.7M193.2 81.7h.7M193.3 76.9h.7M190.9 89.9h.7M191.3 93.4h.7M190.8 90.8h.7M196.5 83.2h.7M188.4 69.6h.7M192.7 81.5h.7M195.1 87.6h.7M190.0 83.0h.7M190.3 91.0h.7M190.2 81.1h.7M188.0 87.0h.7M195.9 85.8h.7M192.1 85.9h.7M189.8 78.5h.7M191.0 84.3h.7M193.1 85.9h.7M191.8 83.0h.7M190.3 78.9h.7M194.0 82.6h.7M190.3 80.4h.7M191.6 86.3h.7M193.1 89.1h.7M190.7 86.2h.7M192.8 86.4h.7M190.9 83.9h.7M199.7 85.6h.7M191.5 75.9h.7M194.4 85.0h.7M190.3 88.7h.7M189.6 82.3h.7M192.2 87.8h.7M191.6 77.9h.7M191.6 84.9h.7M192.5 83.8h.7M194.9 86.8h.7M197.6 85.3h.7M197.9 94.7h.7M192.7 70.3h.7M197.4 78.1h.7M197.1 81.6h.7M190.8 85.1h.7M191.2 81.8h.7M192.2 81.6h.7M197.7 77.6h.7M192.1 78.5h.7M191.8 80.7h.7M196.2 91.5h.7M192.0 81.0h.7M192.0 97.1h.7M194.0 89.5h.7M192.9 83.4h.7M186.0 88.3h.7M189.1 89.3h.7M194.3 79.2h.7M188.6 77.3h.7M195.7 91.3h.7M192.2 80.3h.7M193.1 88.6h.7M193.1 87.7h.7M187.6 77.1h.7M190.5 87.6h.7M189.6 87.2h.7M193.0 90.5h.7M196.5 84.5h.7M191.8 86.7h.7M192.6 86.4h.7M187.2 83.6h.7M191.4 92.1h.7M191.7 89.1h.7M191.9 91.6h.7M194.0 86.3h.7M196.1 89.9h.7M192.4 80.4h.7M193.5 81.9h.7M188.2 89.2h.7M194.0 83.6h.7M192.5 82.9h.7M187.7 85.4h.7M193.3 77.5h.7M190.6 85.4h.7M195.1 86.9h.7M193.6 83.2h.7M192.6 79.6h.7M197.0 92.6h.7M192.0 86.6h.7M191.6 80.0h.7M192.5 82.0h.7M192.7 77.4h.7M190.2 76.8h.7M194.0 76.0h.7M193.6 80.9h.7M191.0 86.6h.7M188.3 88.0h.7M195.7 84.1h.7M196.0 89.3h.7M194.9 87.2h.7M195.2 79.5h.7M197.4 80.9h.7M193.5 86.0h.7M197.0 87.8h.7M192.2 89.6h.7M190.3 78.5h.7M192.7 75.9h.7M191.9 93.8h.7M194.0 83.4h.7M197.6 89.2h.7M193.9 84.9h.7M195.6 78.5h.7M198.5 91.1h.7M197.6 86.8h.7M193.0 91.4h.7M191.0 87.5h.7M198.5 80.3h.7M192.7 90.0h.7M195.7 94.8h.7M190.9 100.2h.7M193.4 90.2h.7M196.1 103.9h.7M189.4 97.9h.7M191.8 97.2h.7M193.4 95.5h.7M195.6 92.6h.7M192.6 88.2h.7M190.9 91.6h.7M194.5 92.4h.7M191.2 93.0h.7M194.1 101.3h.7M193.9 104.1h.7M192.3 95.4h.7M195.3 98.2h.7M196.2 88.0h.7M189.2 80.3h.7M194.4 91.6h.7M192.4 93.7h.7M192.1 100.6h.7M193.1 106.7h.7M196.2 93.8h.7M192.5 100.1h.7M192.0 98.9h.7M189.4 93.6h.7M192.5 97.2h.7M192.9 94.6h.7M190.3 101.6h.7" stroke="#333" stroke-width=".7" stroke-opacity=".6" fill="none"/>
<path d="M52.5 117.5h2.5M52.5 96.0h2.5M52.5 74.5h2.5M52.5 53.0h2.5M52.5 31.5h2.5M52.5 111.0h1.3M52.5 107.2h1.3M52.5 104.6h1.3M52.5 102.5h1.3M52.5 100.8h1.3M52.5 99.3h1.3M52.5 98.1h1.3M52.5 97.0h1.3M52.5 89.5h1.3M52.5 85.7h1.3M52.5 83.1h1.3M52.5 81.0h1.3M52.5 79.3h1.3M52.5 77.8h1.3M52.5 76.6h1.3M52.5 75.5h1.3M52.5 68.0h1.3M52.5 64.2h1.3M52.5 61.6h1.3M52.5 59.5h1.3M52.5 57.8h1.3M52.5 56.3h1.3M52.5 55.1h1.3M52.5 54.0h1.3M52.5 46.5h1.3M52.5 42.7h1.3M52.5 40.1h1.3M52.5 38.0h1.3M52.5 36.3h1.3M52.5 34.8h1.3M52.5 33.6h1.3M52.5 32.5h1.3M54.5 117.5v-2.5M72 117.5v-2.5M94 117.5v-2.5M115.5 117.5v-2.5M137.5 117.5v-2.5M57.0 117.5v-1.3M60.8 117.5v-1.3M63.4 117.5v-1.3M65.5 117.5v-1.3M67.2 117.5v-1.3M68.7 117.5v-1.3M69.9 117.5v-1.3M71.0 117.5v-1.3M79.0 117.5v-1.3M82.8 117.5v-1.3M85.4 117.5v-1.3M87.5 117.5v-1.3M89.2 117.5v-1.3M90.7 117.5v-1.3M91.9 117.5v-1.3M93.0 117.5v-1.3M100.5 117.5v-1.3M104.3 117.5v-1.3M106.9 117.5v-1.3M109.0 117.5v-1.3M110.7 117.5v-1.3M112.2 117.5v-1.3M113.4 117.5v-1.3M114.5 117.5v-1.3M122.5 117.5v-1.3M126.3 117.5v-1.3M128.9 117.5v-1.3M131.0 117.5v-1.3M132.7 117.5v-1.3M134.2 117.5v-1.3M135.4 117.5v-1.3M136.5 117.5v-1.3" stroke="#000" stroke-width=".9" fill="none"/>
<text x="54.8" y="133.3" font-size="9.2" font-weight="normal" fill="#000" text-anchor="middle" >0</text>
<text x="72" y="133.3" font-size="9.2" font-weight="normal" fill="#000" text-anchor="middle" >10<tspan font-size="5" dy="-3.5">2</tspan></text>
<text x="94" y="133.3" font-size="9.2" font-weight="normal" fill="#000" text-anchor="middle" >10<tspan font-size="5" dy="-3.5">3</tspan></text>
<text x="115.5" y="133.3" font-size="9.2" font-weight="normal" fill="#000" text-anchor="middle" >10<tspan font-size="5" dy="-3.5">4</tspan></text>
<text x="138" y="133.3" font-size="9.2" font-weight="normal" fill="#000" text-anchor="middle" >10<tspan font-size="5" dy="-3.5">5</tspan></text>
<text transform="translate(47.5 117.5) rotate(-90)" font-size="9.2" font-weight="normal" fill="#000" text-anchor="middle">0</text>
<text transform="translate(47.5 96) rotate(-90)" font-size="9.2" font-weight="normal" fill="#000" text-anchor="middle">10<tspan font-size="5" dy="-3.5">2</tspan></text>
<text transform="translate(47.5 74) rotate(-90)" font-size="9.2" font-weight="normal" fill="#000" text-anchor="middle">10<tspan font-size="5" dy="-3.5">3</tspan></text>
<text transform="translate(47.5 52.5) rotate(-90)" font-size="9.2" font-weight="normal" fill="#000" text-anchor="middle">10<tspan font-size="5" dy="-3.5">4</tspan></text>
<text transform="translate(47.5 31) rotate(-90)" font-size="9.2" font-weight="normal" fill="#000" text-anchor="middle">10<tspan font-size="5" dy="-3.5">5</tspan></text>
<text transform="translate(34 72) rotate(-90)" font-size="10.5" font-weight="normal" fill="#000" text-anchor="middle">Anti-CD38</text>
<text x="97.5" y="144" font-size="11" font-weight="normal" fill="#000" text-anchor="middle" >Anti-CD34</text>
<text x="253.3" y="19.5" font-size="13" font-weight="bold" fill="#000" text-anchor="start" >ii</text>
<path d="M277.6 43.3V232.3H520" stroke="#000" stroke-width="1" fill="none"/>
<text x="274.8" y="235.8" font-size="10" font-weight="normal" fill="#000" text-anchor="end" >0</text>
<text x="274.8" y="198.0" font-size="10" font-weight="normal" fill="#000" text-anchor="end" >5</text>
<text x="274.8" y="160.20000000000002" font-size="10" font-weight="normal" fill="#000" text-anchor="end" >10</text>
<text x="274.8" y="122.40000000000002" font-size="10" font-weight="normal" fill="#000" text-anchor="end" >15</text>
<text x="274.8" y="84.60000000000002" font-size="10" font-weight="normal" fill="#000" text-anchor="end" >20</text>
<text x="274.8" y="46.80000000000001" font-size="10" font-weight="normal" fill="#000" text-anchor="end" >25</text>
<path d="M277.6 232.3h-2.5M277.6 194.5h-2.5M277.6 156.7h-2.5M277.6 118.9h-2.5M277.6 81.1h-2.5M277.6 43.3h-2.5" stroke="#000" stroke-width="1" fill="none"/>
<path d="M287.8 225.5V217.2M285.1 217.2h5.4" stroke="#000" stroke-width="1.25" fill="none"/>
<path d="M299.4 214.9V206.6M296.8 206.6h5.4" stroke="#000" stroke-width="1.25" fill="none"/>
<rect x="281.9" y="225.5" width="11.7" height="6.8" fill="#000" stroke="#000" stroke-width="1"/>
<rect x="293.59999999999997" y="214.9" width="11.7" height="17.4" fill="#fff" stroke="#000" stroke-width="1"/>
<text x="294" y="244.3" font-size="10" font-weight="normal" fill="#000" text-anchor="middle" >1</text>
<path d="M327.6 78.8V53.1M324.9 53.1h5.4" stroke="#000" stroke-width="1.25" fill="none"/>
<path d="M339.2 110.6V63.7M336.6 63.7h5.4" stroke="#000" stroke-width="1.25" fill="none"/>
<rect x="321.7" y="78.8" width="11.7" height="153.5" fill="#000" stroke="#000" stroke-width="1"/>
<rect x="333.4" y="110.6" width="11.7" height="121.7" fill="#fff" stroke="#000" stroke-width="1"/>
<text x="333.5" y="244.3" font-size="10" font-weight="normal" fill="#000" text-anchor="middle" >2</text>
<path d="M365.7 202.1V195.3M363.0 195.3h5.4" stroke="#000" stroke-width="1.25" fill="none"/>
<path d="M377.4 206.6V196.0M374.7 196.0h5.4" stroke="#000" stroke-width="1.25" fill="none"/>
<rect x="359.8" y="202.1" width="11.7" height="30.2" fill="#000" stroke="#000" stroke-width="1"/>
<rect x="371.5" y="206.6" width="11.7" height="25.7" fill="#fff" stroke="#000" stroke-width="1"/>
<text x="373" y="244.3" font-size="10" font-weight="normal" fill="#000" text-anchor="middle" >3</text>
<path d="M404.7 203.6V192.2M402.0 192.2h5.4" stroke="#000" stroke-width="1.25" fill="none"/>
<path d="M416.4 205.1V189.2M413.7 189.2h5.4" stroke="#000" stroke-width="1.25" fill="none"/>
<rect x="398.8" y="203.6" width="11.7" height="28.7" fill="#000" stroke="#000" stroke-width="1"/>
<rect x="410.5" y="205.1" width="11.7" height="27.2" fill="#fff" stroke="#000" stroke-width="1"/>
<text x="410.6" y="244.3" font-size="10" font-weight="normal" fill="#000" text-anchor="middle" >4</text>
<path d="M443.9 208.9V203.6M441.2 203.6h5.4" stroke="#000" stroke-width="1.25" fill="none"/>
<path d="M455.6 182.4V180.1M452.9 180.1h5.4" stroke="#000" stroke-width="1.25" fill="none"/>
<rect x="438.0" y="208.9" width="11.7" height="23.4" fill="#000" stroke="#000" stroke-width="1"/>
<rect x="449.7" y="182.4" width="11.7" height="49.9" fill="#fff" stroke="#000" stroke-width="1"/>
<text x="451" y="244.3" font-size="10" font-weight="normal" fill="#000" text-anchor="middle" >5</text>
<path d="M482.6 186.2V155.9M479.9 155.9h5.4" stroke="#000" stroke-width="1.25" fill="none"/>
<path d="M494.2 165.8V124.2M491.6 124.2h5.4" stroke="#000" stroke-width="1.25" fill="none"/>
<rect x="476.7" y="186.2" width="11.7" height="46.1" fill="#000" stroke="#000" stroke-width="1"/>
<rect x="488.4" y="165.8" width="11.7" height="66.5" fill="#fff" stroke="#000" stroke-width="1"/>
<text x="490.4" y="244.3" font-size="10" font-weight="normal" fill="#000" text-anchor="middle" >6</text>
<path d="M287 46.7H323.7M302 59.4H338" stroke="#000" stroke-width="1.3" fill="none"/>
<text x="304.5" y="44.5" font-size="12.5" font-weight="bold" fill="#000" text-anchor="middle" >**</text>
<text x="318" y="59.5" font-size="12.5" font-weight="bold" fill="#000" text-anchor="middle" >**</text>
<text transform="translate(252.5 137.5) rotate(-90)" font-size="10.5" font-weight="normal" fill="#000" text-anchor="middle">Active Caspase-3 (%)</text>
<text x="5.8" y="276.3" font-size="17" font-weight="bold" fill="#000" text-anchor="start" >B</text>
<path d="M54.8 279.7V381.6H185" stroke="#000" stroke-width="1" fill="none"/>
<text x="52" y="381.0" font-size="10" font-weight="normal" fill="#000" text-anchor="end" >0</text>
<text x="52" y="348.4" font-size="10" font-weight="normal" fill="#000" text-anchor="end" >20</text>
<text x="52" y="315.8" font-size="10" font-weight="normal" fill="#000" text-anchor="end" >40</text>
<text x="52" y="283.2" font-size="10" font-weight="normal" fill="#000" text-anchor="end" >60</text>
<path d="M54.8 377.5h-2.5M54.8 344.9h-2.5M54.8 312.3h-2.5M54.8 279.7h-2.5" stroke="#000" stroke-width="1" fill="none"/>
<path d="M94.3 341.4V333M91.8 333h5" stroke="#000" stroke-width="1" fill="none"/>
<rect x="77.9" y="341.4" width="32.7" height="40.1" fill="#000" stroke="#000" stroke-width="0.8"/>
<path d="M127.0 307.1V298.5M124.5 298.5h5" stroke="#000" stroke-width="1" fill="none"/>
<rect x="110.6" y="307.1" width="32.7" height="74.4" fill="#fff" stroke="#000" stroke-width="0.8"/>
<path d="M159.8 338.8V332.8M157.3 332.8h5" stroke="#000" stroke-width="1" fill="none"/>
<rect x="143.4" y="338.8" width="32.7" height="42.7" fill="#808080" stroke="#000" stroke-width="0.6"/>
<path d="M94 300.4H117M138.3 300.4H161.8" stroke="#000" stroke-width="1.4" fill="none"/>
<text x="106.4" y="303.2" font-size="15" font-weight="bold" fill="#000" text-anchor="middle" >*</text>
<text x="151" y="303.2" font-size="15" font-weight="bold" fill="#000" text-anchor="middle" >*</text>
<text transform="translate(29 324.3) rotate(-90)" font-size="10.5" font-weight="normal" fill="#000" text-anchor="middle">Annexin V (%)</text>
<rect x="188.6" y="281.5" width="4.4" height="4.4" fill="#000" stroke="#000" stroke-width=".9"/>
<text x="200" y="287.59999999999997" font-size="11" font-weight="normal" fill="#000" text-anchor="start" >No drug</text>
<rect x="188.6" y="296.8" width="4.4" height="4.4" fill="#fff" stroke="#000" stroke-width=".9"/>
<text x="200" y="302.9" font-size="11" font-weight="normal" fill="#000" text-anchor="start" >BMS-214662</text>
<rect x="188.6" y="311.3" width="4.4" height="4.4" fill="#808080" stroke="#000" stroke-width=".9"/>
<text x="201" y="317.8" font-size="11" font-weight="normal" fill="#000" text-anchor="start" >BMS-225975</text>
<text x="-0.8" y="428.8" font-size="17" font-weight="bold" fill="#000" text-anchor="start" >C</text>
<path d="M24.25 446V537.5H128" stroke="#999" stroke-width=".8" fill="none"/>
<text x="16.8" y="447.5" font-size="4.1" font-weight="normal" fill="#222" text-anchor="end" >250</text>
<path d="M22.5 446h1.75" stroke="#aaa" stroke-width=".6"/>
<text x="16.8" y="465.5" font-size="4.1" font-weight="normal" fill="#222" text-anchor="end" >200</text>
<path d="M22.5 464h1.75" stroke="#aaa" stroke-width=".6"/>
<text x="16.8" y="484.5" font-size="4.1" font-weight="normal" fill="#222" text-anchor="end" >150</text>
<path d="M22.5 483h1.75" stroke="#aaa" stroke-width=".6"/>
<text x="16.8" y="503.0" font-size="4.1" font-weight="normal" fill="#222" text-anchor="end" >100</text>
<path d="M22.5 501.5h1.75" stroke="#aaa" stroke-width=".6"/>
<text x="16.8" y="521.0" font-size="4.1" font-weight="normal" fill="#222" text-anchor="end" >50</text>
<path d="M22.5 519.5h1.75" stroke="#aaa" stroke-width=".6"/>
<text x="16.8" y="538.5" font-size="4.1" font-weight="normal" fill="#222" text-anchor="end" >0</text>
<path d="M22.5 537h1.75" stroke="#aaa" stroke-width=".6"/>
<text x="30.9" y="439.8" font-size="14.5" font-weight="bold" fill="#000" text-anchor="start" >i</text>
<path d="M41.70 537.50 L50.00 525.00 L56.00 515.50 L59.50 511.00 L64.00 511.50 L68.00 513.50 L72.00 519.50 L76.00 527.50 L79.00 533.50 L82.00 537.50Z" fill="rgba(150,150,150,0.36)"/>
<path d="M60.00 537.50 L64.00 529.50 L68.00 517.50 L70.50 510.50 L72.00 510.50 L74.00 515.50 L78.00 527.50 L82.50 537.50Z" fill="rgba(170,170,170,0.33)"/>
<path d="M38.42 537.50 L38.42 536.98 L39.06 536.64 L39.70 536.10 L40.34 535.29 L40.98 534.10 L41.62 532.40 L42.26 530.07 L42.90 526.95 L43.54 522.92 L44.18 517.90 L44.82 511.84 L45.46 504.80 L46.10 496.94 L46.74 488.53 L47.38 479.94 L48.02 471.64 L48.66 464.15 L49.30 457.98 L49.94 453.58 L50.58 451.29 L51.22 451.29 L51.86 453.58 L52.50 457.98 L53.14 464.15 L53.78 471.64 L54.42 479.94 L55.06 488.53 L55.70 496.94 L56.34 504.80 L56.98 511.84 L57.62 517.90 L58.26 522.92 L58.90 526.95 L59.54 530.07 L60.18 532.40 L60.82 534.10 L61.46 535.29 L62.10 536.10 L62.74 536.64 L63.38 536.98 L63.38 537.50Z" fill="rgba(100,100,100,0.44)"/>
<path d="M25.00 537.00 L31.00 536.50 L33.00 534.50 L35.00 532.50 L37.00 534.50 L39.00 537.00 L41.00 536.00 L43.00 520.00 L45.00 497.00 L46.50 488.00 L47.50 480.00 L49.00 457.00 L50.00 451.00 L51.30 451.00 L52.50 457.00 L54.00 475.00 L56.00 494.00 L58.00 503.00 L60.00 506.50 L62.50 508.00 L65.00 510.50 L67.50 508.50 L69.00 511.00 L71.00 508.50 L73.00 511.50 L76.00 520.00 L79.00 530.00 L82.50 537.00 L100.00 537.30" fill="none" stroke="#9a9a9a" stroke-width=".7" stroke-linejoin="round"/>
<path d="M39.5 443.3V537.5" stroke="#000" stroke-width="1.1" stroke-dasharray="2.2 1.6" fill="none"/>
<text transform="translate(82.2 454.1) scale(.97 1)" font-size="9.6" font-weight="bold" fill="#454545">%subG1</text>
<text transform="translate(123.4 454.1) scale(.97 1)" font-size="9.6" font-weight="bold" fill="#454545">2.8</text>
<text transform="translate(82.2 465.7) scale(.97 1)" font-size="9.6" font-weight="bold" fill="#454545">%G1</text>
<text transform="translate(122.6 465.7) scale(.97 1)" font-size="9.6" font-weight="bold" fill="#454545">53.95</text>
<text transform="translate(82.2 477.3) scale(.97 1)" font-size="9.6" font-weight="bold" fill="#454545">%S</text>
<text transform="translate(121.7 477.3) scale(.97 1)" font-size="9.6" font-weight="bold" fill="#454545">39.79</text>
<text transform="translate(82.2 489) scale(.97 1)" font-size="9.6" font-weight="bold" fill="#454545">%G2</text>
<text transform="translate(122.6 489) scale(.97 1)" font-size="9.6" font-weight="bold" fill="#454545">20.86</text>
<text x="24.25" y="545.2" font-size="4.5" font-weight="normal" fill="#222" text-anchor="middle" >0</text>
<text x="45.0" y="545.2" font-size="4.5" font-weight="normal" fill="#222" text-anchor="middle" >200</text>
<text x="65.75" y="545.2" font-size="4.5" font-weight="normal" fill="#222" text-anchor="middle" >400</text>
<text x="86.5" y="545.2" font-size="4.5" font-weight="normal" fill="#222" text-anchor="middle" >600</text>
<text x="107.25" y="545.2" font-size="4.5" font-weight="normal" fill="#222" text-anchor="middle" >800</text>
<text x="128.0" y="545.2" font-size="4.5" font-weight="normal" fill="#222" text-anchor="middle" >1000</text>
<path d="M136 537.5H248" stroke="#999" stroke-width=".8" fill="none"/>
<text x="147.3" y="439.8" font-size="14.5" font-weight="bold" fill="#000" text-anchor="start" >ii</text>
<path d="M158.50 537.50 L168.00 522.50 L175.00 510.50 L178.00 507.00 L181.00 508.00 L184.00 511.50 L189.00 518.50 L194.00 526.00 L199.00 532.50 L203.50 537.50Z" fill="rgba(150,150,150,0.36)"/>
<path d="M178.00 537.50 L182.00 527.50 L186.00 512.50 L188.20 505.50 L190.00 509.50 L194.00 518.50 L198.00 527.50 L202.70 537.50Z" fill="rgba(170,170,170,0.33)"/>
<path d="M154.52 537.50 L154.52 536.75 L155.24 536.25 L155.96 535.48 L156.69 534.30 L157.41 532.58 L158.13 530.13 L158.85 526.76 L159.57 522.25 L160.30 516.44 L161.02 509.17 L161.74 500.42 L162.46 490.25 L163.18 478.89 L163.91 466.73 L164.63 454.32 L165.35 445.50 L166.07 445.50 L166.79 445.50 L167.52 445.50 L168.24 445.50 L168.96 445.50 L169.68 445.50 L170.41 445.50 L171.13 445.50 L171.85 445.50 L172.57 454.32 L173.29 466.73 L174.02 478.89 L174.74 490.25 L175.46 500.42 L176.18 509.17 L176.90 516.44 L177.63 522.25 L178.35 526.76 L179.07 530.13 L179.79 532.58 L180.51 534.30 L181.24 535.48 L181.96 536.25 L182.68 536.75 L182.68 537.50Z" fill="rgba(100,100,100,0.44)"/>
<path d="M143.00 537.00 L148.00 536.50 L150.00 533.00 L151.50 532.50 L153.00 535.00 L155.00 536.50 L158.00 536.00 L160.00 520.00 L162.00 500.00 L163.70 492.00 L165.00 478.00 L166.50 462.00 L168.00 458.00 L169.50 462.00 L171.00 478.00 L173.00 494.00 L175.00 502.00 L178.00 506.50 L181.00 507.50 L184.00 511.00 L185.00 513.00 L186.50 509.00 L188.20 505.00 L190.00 509.00 L194.00 518.00 L198.00 527.00 L202.70 537.00 L225.00 537.30" fill="none" stroke="#9a9a9a" stroke-width=".7" stroke-linejoin="round"/>
<path d="M157.5 443.3V537.5" stroke="#000" stroke-width="1.1" stroke-dasharray="2.2 1.6" fill="none"/>
<text transform="translate(198.0 454.1) scale(.97 1)" font-size="9.6" font-weight="bold" fill="#454545">%subG1</text>
<text transform="translate(239.7 454.1) scale(.97 1)" font-size="9.6" font-weight="bold" fill="#454545">2.14</text>
<text transform="translate(198.0 465.7) scale(.97 1)" font-size="9.6" font-weight="bold" fill="#454545">%G1</text>
<text transform="translate(238.5 465.7) scale(.97 1)" font-size="9.6" font-weight="bold" fill="#454545">56.68</text>
<text transform="translate(198.0 477.3) scale(.97 1)" font-size="9.6" font-weight="bold" fill="#454545">%S</text>
<text transform="translate(240.5 477.3) scale(.97 1)" font-size="9.6" font-weight="bold" fill="#454545">40.02</text>
<text transform="translate(198.0 489) scale(.97 1)" font-size="9.6" font-weight="bold" fill="#454545">%G2</text>
<text transform="translate(238.5 489) scale(.97 1)" font-size="9.6" font-weight="bold" fill="#454545">21.92</text>
<text x="141.5" y="545.2" font-size="4.5" font-weight="normal" fill="#222" text-anchor="middle" >0</text>
<text x="162.4" y="545.2" font-size="4.5" font-weight="normal" fill="#222" text-anchor="middle" >200</text>
<text x="183.3" y="545.2" font-size="4.5" font-weight="normal" fill="#222" text-anchor="middle" >400</text>
<text x="204.2" y="545.2" font-size="4.5" font-weight="normal" fill="#222" text-anchor="middle" >600</text>
<text x="225.1" y="545.2" font-size="4.5" font-weight="normal" fill="#222" text-anchor="middle" >800</text>
<text x="246.0" y="545.2" font-size="4.5" font-weight="normal" fill="#222" text-anchor="middle" >1000</text>
<path d="M256 537.5H368" stroke="#999" stroke-width=".8" fill="none"/>
<text x="264.3" y="439.8" font-size="14.5" font-weight="bold" fill="#000" text-anchor="start" >iii</text>
<path d="M280.00 537.50 L289.00 524.00 L295.00 514.50 L298.00 510.50 L302.00 511.50 L306.00 512.50 L310.00 515.50 L315.00 524.50 L320.00 532.50 L324.00 537.50Z" fill="rgba(150,150,150,0.36)"/>
<path d="M300.00 537.50 L304.00 528.50 L308.00 515.50 L311.40 509.00 L313.00 511.50 L317.00 521.50 L321.00 530.50 L325.00 537.50Z" fill="rgba(170,170,170,0.33)"/>
<path d="M276.46 537.50 L276.46 536.79 L277.15 536.32 L277.84 535.59 L278.53 534.48 L279.22 532.86 L279.91 530.54 L280.60 527.36 L281.28 523.11 L281.97 517.62 L282.66 510.76 L283.35 502.50 L284.04 492.89 L284.73 482.17 L285.42 470.69 L286.11 458.98 L286.80 447.66 L287.49 445.50 L288.18 445.50 L288.87 445.50 L289.56 445.50 L290.24 445.50 L290.93 445.50 L291.62 445.50 L292.31 445.50 L293.00 447.66 L293.69 458.98 L294.38 470.69 L295.07 482.17 L295.76 492.89 L296.45 502.50 L297.14 510.76 L297.83 517.62 L298.52 523.11 L299.20 527.36 L299.89 530.54 L300.58 532.86 L301.27 534.48 L301.96 535.59 L302.65 536.32 L303.34 536.79 L303.34 537.50Z" fill="rgba(100,100,100,0.44)"/>
<path d="M264.00 537.00 L270.00 536.50 L271.50 533.50 L273.00 532.50 L274.50 535.00 L277.00 536.50 L279.50 536.00 L281.00 520.00 L282.50 495.00 L283.70 474.00 L284.60 480.00 L285.50 486.00 L287.00 470.00 L288.50 458.00 L290.00 455.00 L291.50 460.00 L293.00 478.00 L295.00 494.00 L297.00 501.00 L298.00 510.00 L301.00 511.00 L304.00 512.50 L306.00 514.00 L309.00 511.00 L311.40 508.50 L313.00 511.00 L317.00 521.00 L321.00 530.00 L325.00 537.00 L345.00 537.30" fill="none" stroke="#9a9a9a" stroke-width=".7" stroke-linejoin="round"/>
<path d="M278.25 443.3V537.5" stroke="#000" stroke-width="1.1" stroke-dasharray="2.2 1.6" fill="none"/>
<text transform="translate(318.4 454.1) scale(.97 1)" font-size="9.6" font-weight="bold" fill="#454545">%subG1</text>
<text transform="translate(359.7 454.1) scale(.97 1)" font-size="9.6" font-weight="bold" fill="#454545">2.6</text>
<text transform="translate(318.4 465.7) scale(.97 1)" font-size="9.6" font-weight="bold" fill="#454545">%G1</text>
<text transform="translate(359 465.7) scale(.97 1)" font-size="9.6" font-weight="bold" fill="#454545">56.55</text>
<text transform="translate(318.4 477.3) scale(.97 1)" font-size="9.6" font-weight="bold" fill="#454545">%S</text>
<text transform="translate(357.6 477.3) scale(.97 1)" font-size="9.6" font-weight="bold" fill="#454545">37.9</text>
<text transform="translate(318.4 489) scale(.97 1)" font-size="9.6" font-weight="bold" fill="#454545">%G2</text>
<text transform="translate(359.2 489) scale(.97 1)" font-size="9.6" font-weight="bold" fill="#454545">21.87</text>
<text x="262.5" y="545.2" font-size="4.5" font-weight="normal" fill="#222" text-anchor="middle" >0</text>
<text x="283.1" y="545.2" font-size="4.5" font-weight="normal" fill="#222" text-anchor="middle" >200</text>
<text x="303.7" y="545.2" font-size="4.5" font-weight="normal" fill="#222" text-anchor="middle" >400</text>
<text x="324.3" y="545.2" font-size="4.5" font-weight="normal" fill="#222" text-anchor="middle" >600</text>
<text x="344.9" y="545.2" font-size="4.5" font-weight="normal" fill="#222" text-anchor="middle" >800</text>
<text x="365.5" y="545.2" font-size="4.5" font-weight="normal" fill="#222" text-anchor="middle" >1000</text>
<rect x="400" y="439.7" width="6.2" height="6.2" fill="#fff" stroke="#000" stroke-width="1.2"/>
<text x="415" y="446.8" font-size="10.5" font-weight="normal" fill="#111" text-anchor="start" >subG1</text>
<rect x="399.5" y="453.25" width="7" height="7" fill="#e2e2e2"/>
<text x="415" y="460.55" font-size="10.5" font-weight="normal" fill="#111" text-anchor="start" >G1</text>
<rect x="399.5" y="469.0" width="7" height="7" fill="#c4c4c4"/>
<text x="415" y="476.3" font-size="10.5" font-weight="normal" fill="#111" text-anchor="start" >S</text>
<rect x="399.5" y="484.75" width="7" height="7" fill="#8e8e8e"/>
<text x="415" y="492.05" font-size="10.5" font-weight="normal" fill="#111" text-anchor="start" >G2</text>
<path d="M24 575.5V663.7H128" stroke="#999" stroke-width=".8" fill="none"/>
<text x="16.8" y="577.25" font-size="4.1" font-weight="normal" fill="#222" text-anchor="end" >500</text>
<path d="M22.3 575.75h1.75" stroke="#aaa" stroke-width=".6"/>
<text x="16.8" y="594.5" font-size="4.1" font-weight="normal" fill="#222" text-anchor="end" >400</text>
<path d="M22.3 593h1.75" stroke="#aaa" stroke-width=".6"/>
<text x="16.8" y="612.5" font-size="4.1" font-weight="normal" fill="#222" text-anchor="end" >300</text>
<path d="M22.3 611h1.75" stroke="#aaa" stroke-width=".6"/>
<text x="16.8" y="630.25" font-size="4.1" font-weight="normal" fill="#222" text-anchor="end" >200</text>
<path d="M22.3 628.75h1.75" stroke="#aaa" stroke-width=".6"/>
<text x="16.8" y="647.5" font-size="4.1" font-weight="normal" fill="#222" text-anchor="end" >100</text>
<path d="M22.3 646h1.75" stroke="#aaa" stroke-width=".6"/>
<text x="16.8" y="665.0" font-size="4.1" font-weight="normal" fill="#222" text-anchor="end" >0</text>
<path d="M22.3 663.5h1.75" stroke="#aaa" stroke-width=".6"/>
<text x="30.2" y="569.0" font-size="15" font-weight="bold" fill="#000" text-anchor="start" >iv</text>
<path d="M41.00 663.70 L44.00 658.70 L47.00 654.70 L52.00 653.70 L58.00 654.70 L62.00 653.70 L65.00 655.70 L68.00 663.70Z" fill="rgba(150,150,150,0.36)"/>
<path d="M56.46 663.70 L56.46 663.63 L56.82 663.59 L57.18 663.52 L57.54 663.42 L57.90 663.27 L58.27 663.05 L58.63 662.75 L58.99 662.36 L59.35 661.85 L59.71 661.21 L60.07 660.44 L60.43 659.54 L60.79 658.54 L61.15 657.47 L61.51 656.38 L61.88 655.33 L62.24 654.37 L62.60 653.59 L62.96 653.03 L63.32 652.74 L63.68 652.74 L64.04 653.03 L64.40 653.59 L64.76 654.37 L65.12 655.33 L65.49 656.38 L65.85 657.47 L66.21 658.54 L66.57 659.54 L66.93 660.44 L67.29 661.21 L67.65 661.85 L68.01 662.36 L68.37 662.75 L68.73 663.05 L69.10 663.27 L69.46 663.42 L69.82 663.52 L70.18 663.59 L70.54 663.63 L70.54 663.70Z" fill="rgba(170,170,170,0.33)"/>
<path d="M35.88 663.70 L35.88 663.17 L36.22 662.82 L36.57 662.28 L36.91 661.45 L37.26 660.24 L37.60 658.51 L37.95 656.14 L38.29 652.97 L38.64 648.87 L38.98 643.76 L39.33 637.59 L39.67 630.44 L40.02 622.44 L40.36 613.88 L40.70 605.14 L41.05 596.70 L41.39 589.08 L41.74 582.80 L42.08 578.33 L42.43 576.00 L42.77 576.00 L43.12 578.33 L43.46 582.80 L43.81 589.08 L44.15 596.70 L44.50 605.14 L44.84 613.88 L45.18 622.44 L45.53 630.44 L45.87 637.59 L46.22 643.76 L46.56 648.87 L46.91 652.97 L47.25 656.14 L47.60 658.51 L47.94 660.24 L48.29 661.45 L48.63 662.28 L48.98 662.82 L49.32 663.17 L49.32 663.70Z" fill="rgba(100,100,100,0.44)"/>
<path d="M25.00 663.00 L27.00 662.00 L29.00 657.00 L31.00 655.00 L33.00 654.50 L35.00 656.00 L36.50 655.00 L38.00 653.00 L39.50 652.00 L40.30 620.00 L41.30 590.00 L42.30 577.00 L43.30 590.00 L44.50 625.00 L46.00 647.00 L48.00 652.00 L52.00 653.00 L56.00 654.50 L60.00 653.50 L62.00 651.00 L64.00 649.50 L65.50 653.00 L67.00 660.00 L69.00 663.30 L90.00 663.50" fill="none" stroke="#9a9a9a" stroke-width=".7" stroke-linejoin="round"/>
<path d="M39.25 570V663.7" stroke="#000" stroke-width="1.1" stroke-dasharray="2.2 1.6" fill="none"/>
<text transform="translate(82.2 584.8) scale(.97 1)" font-size="9.6" font-weight="bold" fill="#454545">%subG1</text>
<text transform="translate(123.4 584.8) scale(.97 1)" font-size="9.6" font-weight="bold" fill="#454545">7.04</text>
<text transform="translate(82.2 596.7) scale(.97 1)" font-size="9.6" font-weight="bold" fill="#454545">%G1</text>
<text transform="translate(122.1 596.7) scale(.97 1)" font-size="9.6" font-weight="bold" fill="#454545">52.4</text>
<text transform="translate(82.2 608.6) scale(.97 1)" font-size="9.6" font-weight="bold" fill="#454545">%S</text>
<text transform="translate(121.3 608.6) scale(.97 1)" font-size="9.6" font-weight="bold" fill="#454545">29.47</text>
<text transform="translate(82.2 620.3) scale(.97 1)" font-size="9.6" font-weight="bold" fill="#454545">%G2</text>
<text transform="translate(120.2 620.3) scale(.97 1)" font-size="9.6" font-weight="bold" fill="#454545">16.18</text>
<text x="24.25" y="671.6" font-size="4.5" font-weight="normal" fill="#222" text-anchor="middle" >0</text>
<text x="45.0" y="671.6" font-size="4.5" font-weight="normal" fill="#222" text-anchor="middle" >200</text>
<text x="65.75" y="671.6" font-size="4.5" font-weight="normal" fill="#222" text-anchor="middle" >400</text>
<text x="86.5" y="671.6" font-size="4.5" font-weight="normal" fill="#222" text-anchor="middle" >600</text>
<text x="107.25" y="671.6" font-size="4.5" font-weight="normal" fill="#222" text-anchor="middle" >800</text>
<text x="128.0" y="671.6" font-size="4.5" font-weight="normal" fill="#222" text-anchor="middle" >1000</text>
<path d="M128 663.7H250" stroke="#999" stroke-width=".8" fill="none"/>
<text x="147.5" y="566.8" font-size="14" font-weight="bold" fill="#000" text-anchor="start" >v</text>
<path d="M162.00 663.70 L165.00 658.70 L168.00 655.70 L172.00 654.70 L178.00 655.20 L182.00 654.70 L184.50 657.70 L186.50 663.70Z" fill="rgba(150,150,150,0.36)"/>
<path d="M174.96 663.70 L174.96 663.65 L175.32 663.61 L175.68 663.55 L176.04 663.47 L176.40 663.35 L176.77 663.17 L177.13 662.93 L177.49 662.60 L177.85 662.18 L178.21 661.66 L178.57 661.03 L178.93 660.30 L179.29 659.48 L179.65 658.60 L180.01 657.71 L180.38 656.85 L180.74 656.07 L181.10 655.43 L181.46 654.97 L181.82 654.73 L182.18 654.73 L182.54 654.97 L182.90 655.43 L183.26 656.07 L183.62 656.85 L183.99 657.71 L184.35 658.60 L184.71 659.48 L185.07 660.30 L185.43 661.03 L185.79 661.66 L186.15 662.18 L186.51 662.60 L186.87 662.93 L187.23 663.17 L187.60 663.35 L187.96 663.47 L188.32 663.55 L188.68 663.61 L189.04 663.65 L189.04 663.70Z" fill="rgba(170,170,170,0.33)"/>
<path d="M158.04 663.70 L158.04 663.17 L158.34 662.82 L158.63 662.28 L158.93 661.45 L159.22 660.24 L159.52 658.51 L159.81 656.14 L160.11 652.97 L160.40 648.87 L160.70 643.76 L160.99 637.59 L161.29 630.44 L161.58 622.44 L161.88 613.88 L162.18 605.14 L162.47 596.70 L162.77 589.08 L163.06 582.80 L163.36 578.33 L163.65 576.00 L163.95 576.00 L164.24 578.33 L164.54 582.80 L164.83 589.08 L165.13 596.70 L165.42 605.14 L165.72 613.88 L166.02 622.44 L166.31 630.44 L166.61 637.59 L166.90 643.76 L167.20 648.87 L167.49 652.97 L167.79 656.14 L168.08 658.51 L168.38 660.24 L168.67 661.45 L168.97 662.28 L169.26 662.82 L169.56 663.17 L169.56 663.70Z" fill="rgba(100,100,100,0.44)"/>
<path d="M146.00 663.30 L150.00 662.00 L151.50 655.00 L153.00 642.00 L154.50 637.00 L156.00 642.00 L157.50 656.00 L159.00 662.00 L160.50 655.00 L161.70 620.00 L162.70 590.00 L163.80 577.00 L164.90 590.00 L166.00 625.00 L167.50 648.00 L169.50 654.00 L173.00 655.50 L177.00 656.00 L181.00 655.00 L183.00 654.00 L185.00 658.00 L187.00 663.00 L210.00 663.50" fill="none" stroke="#9a9a9a" stroke-width=".7" stroke-linejoin="round"/>
<path d="M158.25 571V663.7" stroke="#000" stroke-width="1.1" stroke-dasharray="2.2 1.6" fill="none"/>
<text transform="translate(198.0 584.8) scale(.97 1)" font-size="9.6" font-weight="bold" fill="#454545">%suG1</text>
<text transform="translate(233.1 584.8) scale(.97 1)" font-size="9.6" font-weight="bold" fill="#454545">20.1</text>
<text transform="translate(198.0 596.7) scale(.97 1)" font-size="9.6" font-weight="bold" fill="#454545">%G1</text>
<text transform="translate(233.7 596.7) scale(.97 1)" font-size="9.6" font-weight="bold" fill="#454545">50.41</text>
<text transform="translate(198.0 608.6) scale(.97 1)" font-size="9.6" font-weight="bold" fill="#454545">%S</text>
<text transform="translate(232.3 608.6) scale(.97 1)" font-size="9.6" font-weight="bold" fill="#454545">23.11</text>
<text transform="translate(198.0 620.3) scale(.97 1)" font-size="9.6" font-weight="bold" fill="#454545">%G2</text>
<text transform="translate(230.9 620.3) scale(.97 1)" font-size="9.6" font-weight="bold" fill="#454545">15.17</text>
<text x="143.75" y="671.6" font-size="4.5" font-weight="normal" fill="#222" text-anchor="middle" >0</text>
<text x="164.75" y="671.6" font-size="4.5" font-weight="normal" fill="#222" text-anchor="middle" >200</text>
<text x="185.75" y="671.6" font-size="4.5" font-weight="normal" fill="#222" text-anchor="middle" >400</text>
<text x="206.75" y="671.6" font-size="4.5" font-weight="normal" fill="#222" text-anchor="middle" >600</text>
<text x="227.75" y="671.6" font-size="4.5" font-weight="normal" fill="#222" text-anchor="middle" >800</text>
<text x="248.75" y="671.6" font-size="4.5" font-weight="normal" fill="#222" text-anchor="middle" >1000</text>
<path d="M262 663.7H366" stroke="#999" stroke-width=".8" fill="none"/>
<text x="269.5" y="566.8" font-size="14" font-weight="bold" fill="#000" text-anchor="start" >v</text>
<text x="278.2" y="568.8" font-size="14" font-weight="bold" fill="#000" text-anchor="start" >i</text>
<path d="M266.30 660.00 L267.50 655.00 L268.80 650.00 L270.00 654.00 L271.00 657.00 L272.00 650.00 L273.00 625.00 L274.30 595.00 L275.50 576.00 L276.30 571.50 L277.20 576.00 L278.20 595.00 L279.30 615.00 L280.50 622.00 L282.00 624.00 L283.50 630.00 L285.00 640.00 L286.50 653.00 L288.00 660.00 L290.00 663.00 L300.00 663.50" fill="none" stroke="#9a9a9a" stroke-width=".7" stroke-linejoin="round"/>
<path d="M281.3 570.5V663.7" stroke="#000" stroke-width="1.1" stroke-dasharray="2.2 1.6" fill="none"/>
<text transform="translate(318.6 584.8) scale(.97 1)" font-size="9.6" font-weight="bold" fill="#454545">%subG1</text>
<text transform="translate(360 584.8) scale(.97 1)" font-size="9.6" font-weight="bold" fill="#454545">73.53</text>
<text transform="translate(318.6 596.7) scale(.97 1)" font-size="9.6" font-weight="bold" fill="#454545">%G1</text>
<text transform="translate(358.8 596.7) scale(.97 1)" font-size="9.6" font-weight="bold" fill="#454545">0.22</text>
<text transform="translate(318.6 608.6) scale(.97 1)" font-size="9.6" font-weight="bold" fill="#454545">%S</text>
<text transform="translate(357.5 608.6) scale(.97 1)" font-size="9.6" font-weight="bold" fill="#454545">0.005</text>
<text transform="translate(318.6 620.3) scale(.97 1)" font-size="9.6" font-weight="bold" fill="#454545">%G2</text>
<text transform="translate(359.3 620.3) scale(.97 1)" font-size="9.6" font-weight="bold" fill="#454545">1.83</text>
<text x="266.25" y="671.6" font-size="4.5" font-weight="normal" fill="#222" text-anchor="middle" >0</text>
<text x="285.85" y="671.6" font-size="4.5" font-weight="normal" fill="#222" text-anchor="middle" >200</text>
<text x="305.45" y="671.6" font-size="4.5" font-weight="normal" fill="#222" text-anchor="middle" >400</text>
<text x="325.05" y="671.6" font-size="4.5" font-weight="normal" fill="#222" text-anchor="middle" >600</text>
<text x="344.65" y="671.6" font-size="4.5" font-weight="normal" fill="#222" text-anchor="middle" >800</text>
<text x="364.25" y="671.6" font-size="4.5" font-weight="normal" fill="#222" text-anchor="middle" >1000</text>
<path d="M389 663.7H492" stroke="#999" stroke-width=".8" fill="none"/>
<text x="391.3" y="569" font-size="15" font-weight="bold" fill="#000" text-anchor="start" >vii</text>
<path d="M409.20 660.60 L417.40 567.10 L418.30 567.10 L424.90 660.60Z" fill="#bdbdbd"/>
<path d="M389.00 661.50 L391.00 659.79 L392.90 657.90 L394.80 661.02 L396.70 659.83 L398.60 659.64 L400.50 660.53 L401.50 660.50 L402.00 657.50 L402.40 660.40 L404.30 660.41 L404.50 657.50 L405.00 660.50 L406.20 660.19 L408.10 660.27 L410.00 659.78 L411.90 659.80 L413.80 659.51 L415.70 659.18 L417.60 660.02 L419.50 661.06 L421.40 657.92 L423.30 659.43 L425.20 659.55 L427.10 660.71 L429.00 661.22 L430.90 658.18 L432.80 661.24 L434.70 659.85 L436.60 661.19 L438.50 660.44 L440.40 659.28 L442.30 661.20 L444.20 660.48 L446.10 659.88 L448.00 660.76 L449.90 659.64 L451.80 660.49 L453.70 660.92 L455.60 660.10 L456.00 658.50 L457.50 659.73 L458.00 656.50 L459.40 660.73 L460.00 659.50 L461.30 660.42 L462.00 661.50" fill="none" stroke="#777" stroke-width=".6"/>
<path d="M409.20 660.60 L417.40 567.00 L417.90 565.50 L418.30 567.00 L424.90 660.60" fill="none" stroke="#9a9a9a" stroke-width=".6"/>
<path d="M405.6 569.6V661" stroke="#000" stroke-width="1.1" stroke-dasharray="2.2 1.6" fill="none"/>
<text x="495.8" y="582.5" font-size="6" font-weight="bold" fill="#454545" text-anchor="start" >'</text>
<text transform="translate(454.3 585.1) scale(.97 1)" font-size="9.6" font-weight="bold" fill="#454545">%subG1</text>
<text transform="translate(499.8 585.1) scale(.97 1)" font-size="9.6" font-weight="bold" fill="#454545">11.5</text>
<text transform="translate(454.3 596.7) scale(.97 1)" font-size="9.6" font-weight="bold" fill="#454545">%G1</text>
<text transform="translate(497.7 596.7) scale(.97 1)" font-size="9.6" font-weight="bold" fill="#454545">51.3</text>
<text transform="translate(454.3 608.2) scale(.97 1)" font-size="9.6" font-weight="bold" fill="#454545">%S</text>
<text transform="translate(496.3 608.2) scale(.97 1)" font-size="9.6" font-weight="bold" fill="#454545">22.2</text>
<text transform="translate(454.3 619.8) scale(.97 1)" font-size="9.6" font-weight="bold" fill="#454545">%G2</text>
<text transform="translate(497.7 619.8) scale(.97 1)" font-size="9.6" font-weight="bold" fill="#454545">10</text>
<text x="390.2" y="670.5" font-size="4.5" font-weight="normal" fill="#222" text-anchor="middle" >0</text>
<text x="409.8" y="670.5" font-size="4.5" font-weight="normal" fill="#222" text-anchor="middle" >200</text>
<text x="429.4" y="670.5" font-size="4.5" font-weight="normal" fill="#222" text-anchor="middle" >400</text>
<text x="449.0" y="670.5" font-size="4.5" font-weight="normal" fill="#222" text-anchor="middle" >600</text>
<text x="468.6" y="670.5" font-size="4.5" font-weight="normal" fill="#222" text-anchor="middle" >800</text>
<text x="488.2" y="670.5" font-size="4.5" font-weight="normal" fill="#222" text-anchor="middle" >1000</text>
</svg>
</body></html>
